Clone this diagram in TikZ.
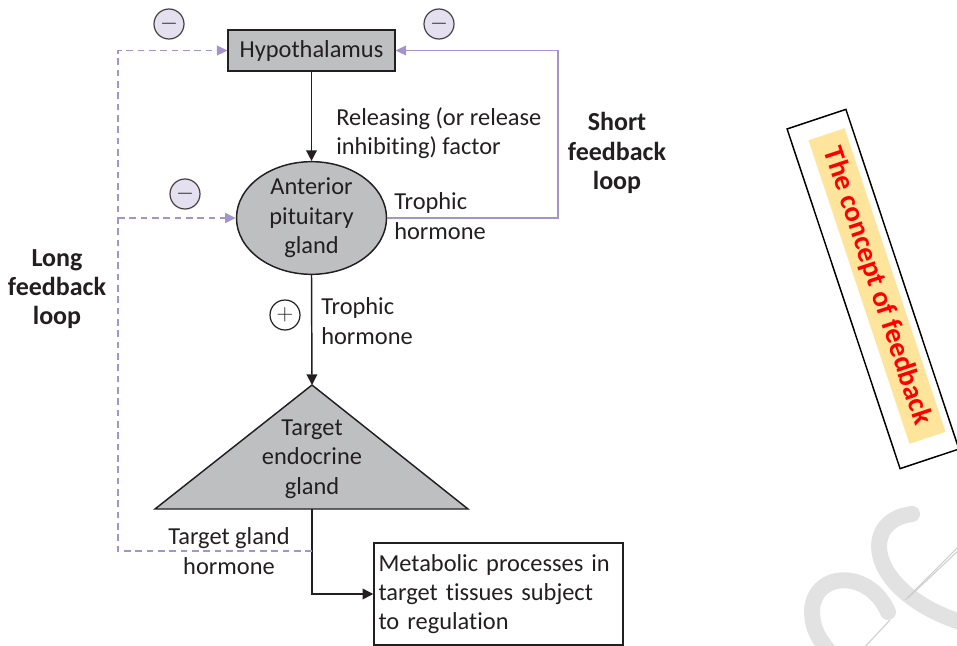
\documentclass[tikz,border=0pt]{standalone}
\usepackage{fontspec}
\setmainfont{Carlito}[Ligatures={NoCommon}]
\usetikzlibrary{arrows.meta,shapes.geometric}
\definecolor{lav}{HTML}{A594CC}
\definecolor{lavfill}{HTML}{E5E0F0}
\definecolor{gfill}{HTML}{BEBFC1}
\definecolor{txt}{HTML}{231F20}
\definecolor{wm}{HTML}{E2E2E2}
\definecolor{hl}{HTML}{FFE49C}
\begin{document}
\begin{tikzpicture}[x=0.75pt,y=-0.75pt,
  font=\fontsize{18.3}{22}\selectfont,
  lbl/.style={text=txt, inner sep=0pt, align=left},
  blbl/.style={text=txt, inner sep=0pt, align=center, font=\fontsize{19.5}{22}\selectfont\bfseries},
  blk/.style={draw=txt, line width=1.1pt},
  blkarrow/.style={draw=txt, line width=1.1pt, -{Triangle[length=8pt,width=8pt]}},
  lavsolid/.style={draw=lav, line width=1.1pt, -{Triangle[length=8pt,width=7.5pt]}},
  lavdash/.style={draw=lav, line width=1.1pt, dash pattern=on 5pt off 3.5pt, -{Triangle[length=8pt,width=7.5pt]}},
  minusc/.style={circle, draw=txt!85, line width=0.9pt, fill=lavfill, minimum size=22.5pt, inner sep=0pt, text=txt},
  plusc/.style={circle, draw=txt, line width=0.9pt, fill=white, minimum size=22.5pt, inner sep=0pt, text=txt}
]
\useasboundingbox (0,0) rectangle (957,646);
% watermark
\begin{scope}[draw=wm, line width=12pt, line cap=round]
  \draw (912,514) .. controls (860,520) and (865,590) .. (960,622);
  \draw (888,612) .. controls (870,570) and (815,570) .. (812,610) .. controls (812,630) and (820,640) .. (828,650);
\end{scope}
\draw[wm!80!gray, line width=0.8pt] (905,600) -- (960,545);
\draw[wm!80!gray, line width=0.8pt] (908,598) -- (960,549);
\draw[wm!80!gray, line width=0.8pt] (862,650) -- (890,620);

% nodes
\node[blk, fill=gfill, minimum width=125pt, minimum height=31pt, inner sep=0pt, text=txt] (hyp) at (311.5,50.5) {Hypothalamus};
\node[ellipse, blk, fill=gfill, minimum width=112.5pt, minimum height=78pt, inner sep=0pt, align=center, text=txt] (ant) at (311.5,218) {Anterior\\pituitary\\gland};
\draw[blk, fill=gfill] (312,385) coordinate (apex) -- (468,509) -- (155,509) -- cycle;
\coordinate (basec) at (312,509);
\node[lbl, align=center] (tlab) at (312,459) {Target\\endocrine\\gland};
\node[blk, minimum width=186.75pt, minimum height=76.5pt, text width=180pt, inner sep=0pt, align=left, text=txt] (meta) at (498.5,594) {Metabolic processes in\\target tissues subject\\to regulation};

\node[minusc] (m1) at (169,24) {$-$};
\node[minusc] (m2) at (439,24) {$-$};
\node[minusc] (m3) at (185,194) {$-$};
\node[plusc] (p1) at (285,315) {$+$};

% labels
\node[lbl, anchor=west] (rel) at (336,133) {Releasing (or release\\inhibiting) factor};
\node[blbl] (sfl) at (617,153) {Short\\feedback\\loop};
\node[blbl] (lfl) at (57,289) {Long\\feedback\\loop};
\node[lbl, anchor=west] (th1) at (394,216) {Trophic\\hormone};
\node[lbl, anchor=west] (th2) at (321,321) {Trophic\\hormone};
\node[lbl, align=center] (tgh) at (229,551) {Target gland\\hormone};

% connectors
\draw[blkarrow] (hyp.south) -- (ant.north);
\draw[blkarrow] (ant.south) -- (apex);
\draw[blkarrow] (basec) |- (meta.west);

\coordinate (sr) at (558,218);
\draw[lavsolid] (ant.east) -- (sr) |- (hyp.east);

\coordinate (jb) at (312,551);
\coordinate (ll) at (118,551);
\draw[lavdash] (jb) -- (ll) |- (hyp.west);
\draw[lavdash] (ll |- ant.west) -- (ant.west);

% rotated title
\node[draw=black, line width=1.1pt, rotate=-71.6, minimum width=268.5pt, minimum height=46.5pt, inner sep=0pt] (rb) at (873,289) {};
\node[fill=hl, rotate=-71.6, minimum width=240pt, minimum height=28.5pt, inner sep=0pt, text=red, font=\fontsize{21.5}{24}\selectfont\bfseries] (title) at (877,286) {The concept of feedback};
\end{tikzpicture}
\end{document}
